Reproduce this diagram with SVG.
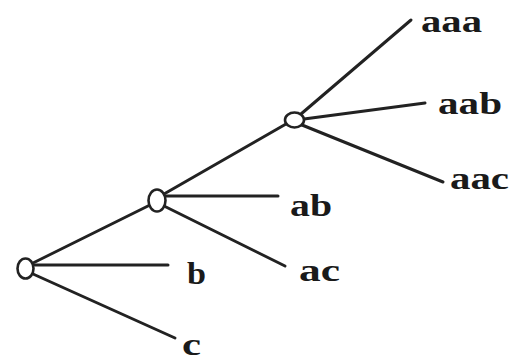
<svg xmlns="http://www.w3.org/2000/svg" width="510" height="362" viewBox="0 0 510 362">
<style>
.e{stroke:#222;stroke-width:3;stroke-linecap:round;fill:none}
.n{stroke:#222;stroke-width:2.6;fill:#fff}
.t{font-family:"Liberation Serif","Times New Roman",serif;font-weight:bold;font-size:32px;fill:#1a1a1a}
</style>
<rect width="510" height="362" fill="#fff"/>
<g id="connectors">
<line class="e" x1="33" y1="263" x2="150" y2="205"/>
<line class="e" x1="35" y1="265" x2="168" y2="265"/>
<line class="e" x1="33" y1="274" x2="175" y2="338"/>
<line class="e" x1="164" y1="194" x2="286" y2="124"/>
<line class="e" x1="166" y1="196" x2="278" y2="196"/>
<line class="e" x1="164" y1="206" x2="285" y2="266"/>
<line class="e" x1="301" y1="114" x2="411" y2="20"/>
<line class="e" x1="304" y1="119" x2="425" y2="103"/>
<line class="e" x1="302" y1="125" x2="443" y2="182"/>
</g>
<g id="root"><ellipse class="n" cx="25.5" cy="268.5" rx="8" ry="10"/></g>
<g id="a"><ellipse class="n" cx="157" cy="200.5" rx="8.5" ry="11"/></g>
<g id="aa"><ellipse class="n" cx="294.5" cy="120" rx="9.5" ry="7.5"/></g>
<g id="n-aaa"><text class="t" x="421" y="32" textLength="61" lengthAdjust="spacingAndGlyphs">aaa</text></g>
<g id="n-aab"><text class="t" x="438" y="114" textLength="64" lengthAdjust="spacingAndGlyphs">aab</text></g>
<g id="n-aac"><text class="t" x="450" y="189" textLength="59" lengthAdjust="spacingAndGlyphs">aac</text></g>
<g id="n-ab"><text class="t" x="290" y="216" textLength="42" lengthAdjust="spacingAndGlyphs">ab</text></g>
<g id="n-ac"><text class="t" x="299" y="281" textLength="41" lengthAdjust="spacingAndGlyphs">ac</text></g>
<g id="n-b"><text class="t" x="187" y="284" textLength="19" lengthAdjust="spacingAndGlyphs">b</text></g>
<g id="n-c"><text class="t" x="182" y="355" textLength="19" lengthAdjust="spacingAndGlyphs">c</text></g>
</svg>
